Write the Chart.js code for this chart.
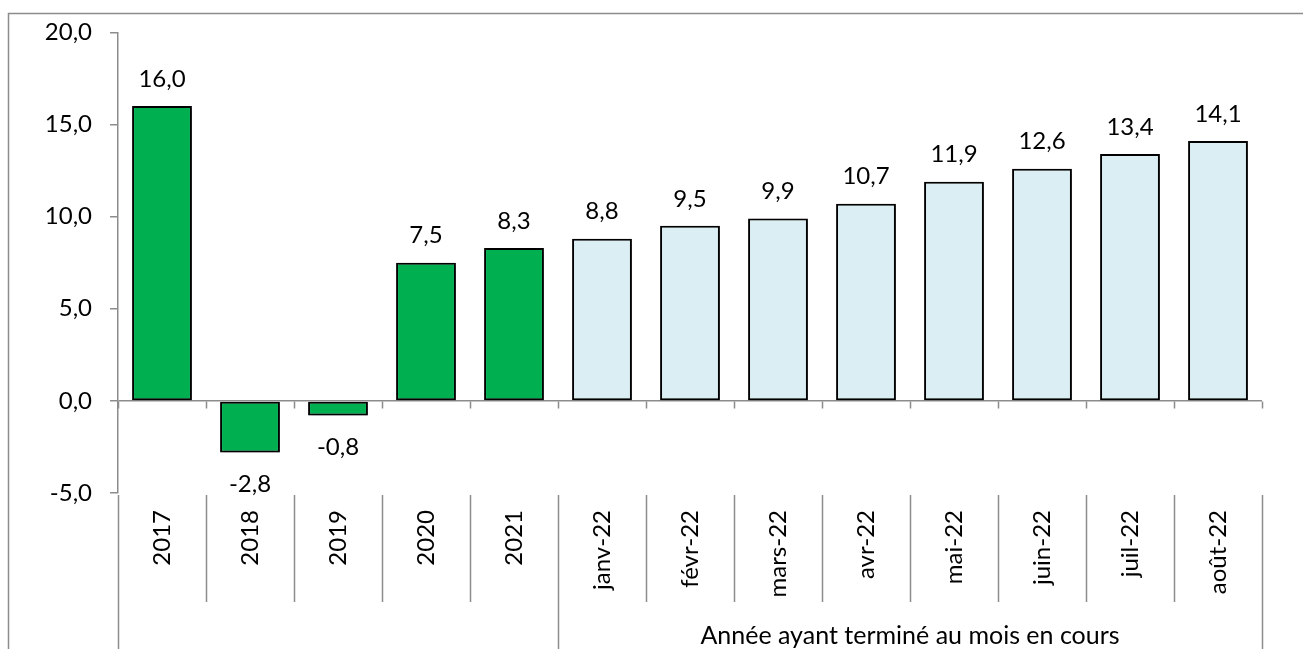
<!DOCTYPE html>
<html>
<head>
<meta charset="utf-8">
<script src="https://cdn.jsdelivr.net/npm/chart.js@4"></script>
<style>
  html, body { margin: 0; padding: 0; background: #fff; }
  #wrap { width: 1303px; height: 649px; }
</style>
</head>
<body>
<div id="wrap"><canvas id="chart"></canvas></div>
<script>
var categories = ["2017", "2018", "2019", "2020", "2021", "janv-22", "févr-22", "mars-22", "avr-22", "mai-22", "juin-22", "juil-22", "août-22"];
var values = [16.0, -2.8, -0.8, 7.5, 8.3, 8.8, 9.5, 9.9, 10.7, 11.9, 12.6, 13.4, 14.1];
var annualCount = 5; // first bars are calendar years
var groupLabel = "Année ayant terminé au mois en cours";

var FONT = "Lato, 'Noto Sans', sans-serif";
var AXIS = "#8c8c8c";

function fr(v) {
  return v.toFixed(1).replace(".", ",");
}

var colors = categories.map(function (c, i) {
  return i < annualCount ? "#00B050" : "#DAEEF3";
});

var extras = {
  id: "extras",
  beforeDraw: function (chart) {
    var c = chart.ctx;
    c.save();
    c.strokeStyle = AXIS;
    c.lineWidth = 1.5;
    c.strokeRect(8.5, 13.5, 1400, 700);
    c.restore();
  },
  beforeDatasetsDraw: function (chart) {
    var c = chart.ctx;
    c.save();
    c.shadowColor = "rgba(0,0,0,0.35)";
    c.shadowBlur = 4;
    c.shadowOffsetX = 2;
    c.shadowOffsetY = 2;
  },
  afterDatasetsDraw: function (chart) {
    var c = chart.ctx;
    c.restore();
    var y = chart.scales.y, area = chart.chartArea;
    var y0 = Math.round(y.getPixelForValue(0)) + 0.5;
    var n = categories.length;
    var step = (area.right - area.left) / n;
    c.save();
    c.strokeStyle = AXIS;
    c.lineWidth = 1.5;
    c.beginPath();
    for (var i = 0; i <= n; i++) {
      var bx = Math.round(area.left + i * step) + 0.5;
      // ticks on the zero line
      c.moveTo(bx, y0);
      c.lineTo(bx, y0 + 7);
      // separators under the labels
      var long = (i === 0 || i === annualCount || i === n);
      c.moveTo(bx, area.bottom + 2);
      c.lineTo(bx, long ? chart.height : area.bottom + 109);
    }
    c.stroke();

    // group label
    c.fillStyle = "#000";
    c.font = "25px " + FONT;
    c.textAlign = "center";
    c.textBaseline = "middle";
    var gx = (area.left + annualCount * step + area.right) / 2;
    c.fillText(groupLabel, gx, 636);

    // value labels
    c.font = "24px " + FONT;
    var meta = chart.getDatasetMeta(0);
    meta.data.forEach(function (bar, i) {
      var v = values[i];
      var ty = v >= 0 ? bar.y - 27 : bar.y + 32;
      c.fillText(fr(v), bar.x, ty);
    });
    c.restore();
  }
};

new Chart(document.getElementById("chart"), {
  type: "bar",
  data: {
    labels: categories,
    datasets: [{
      data: values,
      backgroundColor: colors,
      borderColor: "#000",
      borderWidth: 2,
      borderSkipped: false,
      barPercentage: 0.68,
      categoryPercentage: 1
    }]
  },
  options: {
    responsive: true,
    maintainAspectRatio: false,
    animation: false,
    layout: { padding: { top: 31, right: 41, left: 0, bottom: 0 } },
    plugins: {
      legend: { display: false },
      tooltip: { enabled: false }
    },
    scales: {
      x: {
        grid: { display: false, drawTicks: false },
        border: { display: false },
        ticks: {
          minRotation: 90,
          maxRotation: 90,
          padding: 17,
          color: "#000",
          font: { family: FONT, size: 24 }
        },
        afterFit: function (s) { s.height = 156; }
      },
      y: {
        min: -5,
        max: 20,
        ticks: {
          stepSize: 5,
          padding: 18,
          color: "#000",
          font: { family: FONT, size: 24 },
          callback: function (v) { return fr(v); }
        },
        grid: {
          drawOnChartArea: true,
          color: function (ctx) { return ctx.tick && ctx.tick.value === 0 ? AXIS : "rgba(0,0,0,0)"; },
          tickColor: AXIS,
          tickLength: 8,
          lineWidth: 1.5
        },
        border: { display: true, color: AXIS, width: 1.5 },
        afterFit: function (s) { s.width = 118; }
      }
    }
  },
  plugins: [extras]
});
</script>
</body>
</html>
